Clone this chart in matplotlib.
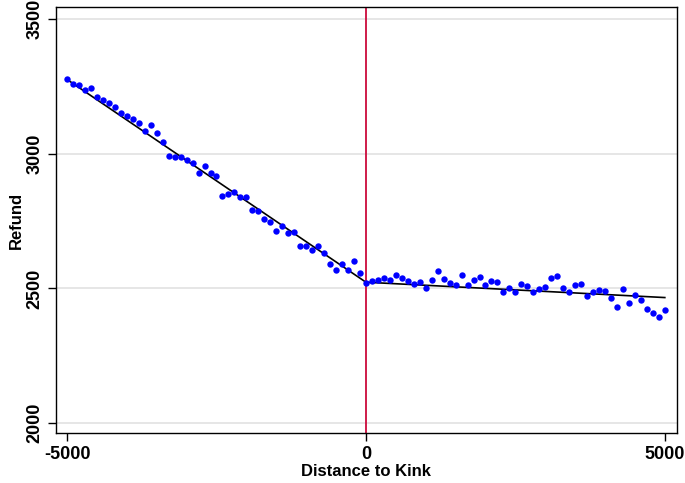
import numpy as np
import matplotlib
matplotlib.use('Agg')
from matplotlib import pyplot as plt

####
# Data
####
dist = np.arange(-5000, 5001, 100)

refund_left = [3278, 3260, 3257, 3236, 3245, 3211, 3199, 3189, 3172, 3150,
               3139, 3130, 3116, 3083, 3107, 3076, 3042, 2992, 2988, 2987,
               2977, 2966, 2927, 2955, 2930, 2916, 2845, 2851, 2857, 2841,
               2839, 2793, 2787, 2757, 2745, 2715, 2731, 2705, 2709, 2658,
               2658, 2643, 2657, 2633, 2591, 2569, 2592, 2569, 2601, 2559]
refund_right = [2521, 2527, 2533, 2539, 2530, 2549, 2540, 2526, 2516, 2523,
                2500, 2530, 2563, 2534, 2520, 2513, 2550, 2511, 2530, 2543,
                2511, 2527, 2522, 2486, 2503, 2486, 2517, 2509, 2485, 2496,
                2507, 2537, 2545, 2500, 2486, 2512, 2517, 2470, 2486, 2494,
                2491, 2464, 2430, 2498, 2444, 2474, 2456, 2425, 2407, 2394,
                2419]
refund = refund_left + refund_right

# fitted lines on each side of the kink
fit_x_left = [-5000, 0]
fit_y_left = [3276, 2523]
fit_x_right = [0, 5000]
fit_y_right = [2523, 2466]

xticks = [-5000, 0, 5000]
yticks = [2000, 2500, 3000, 3500]

####
# Plotting
####
plt.rcParams['font.family'] = ['Liberation Sans', 'DejaVu Sans']
plt.rcParams['font.weight'] = 'bold'
plt.rcParams['axes.unicode_minus'] = False

fig = plt.figure(figsize=(6.85, 4.83), dpi=100)
ax = fig.add_axes([0.0818, 0.1035, 0.9062, 0.882])

for y in yticks:
    ax.axhline(y, color='#e2e2e2', linewidth=1.2, zorder=0)

ax.axvline(0, color='#cc0a3c', linewidth=1.3, zorder=1)
ax.plot(dist, refund, 'o', color='#0000ff', markersize=4.6,
        markeredgewidth=0, zorder=3)
ax.plot(fit_x_left, fit_y_left, color='black', linewidth=1.2, zorder=2)
ax.plot(fit_x_right, fit_y_right, color='black', linewidth=1.2, zorder=2)

ax.set_xlim(-5184, 5200)
ax.set_ylim(1963, 3545)
ax.set_xticks(xticks)
ax.set_yticks(yticks)
ax.set_yticklabels([str(v) for v in yticks], rotation=90, va='center')
ax.tick_params(axis='both', labelsize=13, length=6, width=1, direction='out',
               color='black', pad=3)
for s in ax.spines.values():
    s.set_linewidth(1)
    s.set_color('black')

ax.set_xlabel('Distance to Kink', fontsize=12, fontweight='bold', labelpad=1)
ax.set_ylabel('Refund', fontsize=12, fontweight='bold', labelpad=2)

fig.savefig('out.png', dpi=100)
